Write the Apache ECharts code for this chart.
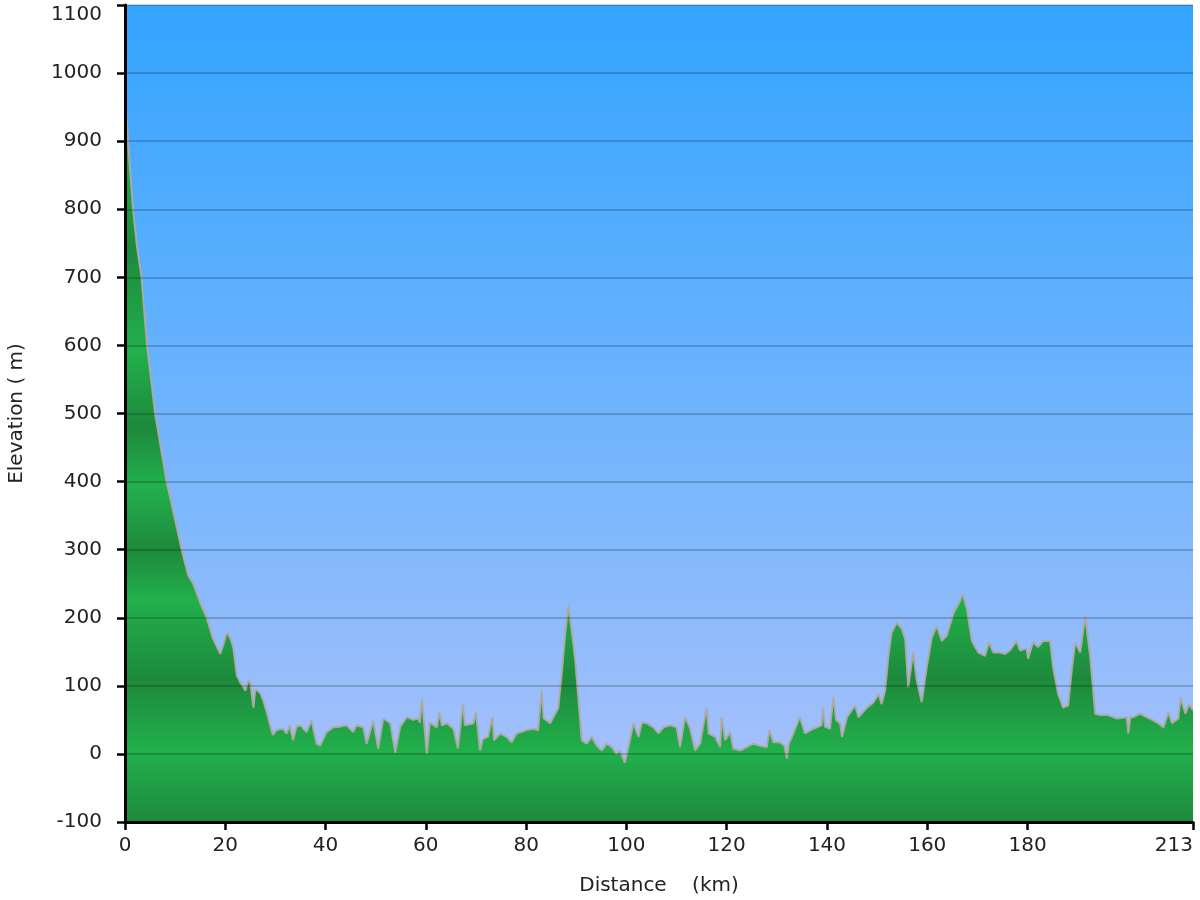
<!DOCTYPE html>
<html>
<head>
<meta charset="utf-8">
<script src="https://cdn.jsdelivr.net/npm/echarts@6/dist/echarts.min.js"></script>
<style>html,body{margin:0;padding:0;background:#fff}#c{width:1200px;height:900px}</style>
</head>
<body>
<div id="c"></div>
<script>
const distKm = [0,0.6,1.6,2.4,3.3,4.4,5.2,6,7.6,8.3,9.8,11.3,12.6,13.6,15,16.3,17.5,19,19.6,20.3,21,21.6,22.3,23,24,24.6,25,25.6,26,27,27.6,28.3,29.2,29.5,30.2,31.5,32.2,32.9,33.5,34.2,35,36.2,37.2,38.2,38.9,40.2,41.5,42.8,44.2,45.5,46.2,47.5,48.2,49.5,50.5,51.5,52.9,53.9,54.9,56.2,57.5,58.5,58.8,59.2,60.2,60.8,62.2,62.7,63.2,64.2,65.5,66.4,67.4,67.8,69.5,70,70.8,71.4,72.4,73.3,73.6,74.8,76.1,77.1,78.1,80.1,81.4,82.4,83.1,83.5,84.8,85.8,86.4,87.1,87.8,88.4,89.1,89.8,90.4,91.1,92.1,93.1,94.1,95.1,96.1,97.1,98,98.7,99.7,100.4,101.4,102.4,103.1,104.1,105.4,106.4,107.4,108.7,110,110.7,111.7,112.7,113.7,114.7,116,116.4,117.7,118.7,119,119.7,120.7,121.3,122.7,124,125.3,126.6,128,128.5,129.3,130.6,131.5,132,132.4,133.3,134.6,135.6,137.3,138.9,139.2,139.6,140.6,141.3,141.8,142.6,143,144,145.6,146.3,148,149.3,150.3,150.9,151.6,152.3,152.9,153.9,154.9,155.6,156.2,157.2,157.9,158.9,159.9,160.9,161.9,162.9,163.9,165.3,166.3,167.1,167.9,168.9,170.2,171.5,172.3,173.2,174.5,175.5,176.5,177.8,178.5,179.8,180.1,181.1,182.1,183.1,184.5,185.1,186.1,187.1,188.1,188.8,189.5,190.5,191.5,192.5,193.5,194.5,196.1,197.8,199.8,200.1,200.5,201.1,202.4,203.8,205.1,206.1,207.1,208.1,208.8,210.1,210.5,211.5,212.2,213];
const elevM = [970,900,800,745,700,600,550,500,430,400,350,300,262,250,222,200,170,147,160,179,170,156,115,105,93,108,104,68,95,89,78,60,35,28,35,37,30,42,20,40,42,32,49,15,12,32,39,40,42,32,42,39,15,49,8,52,45,2,40,54,50,52,46,81,0,46,39,61,42,45,37,8,74,42,45,61,5,22,25,54,20,30,25,17,30,35,37,35,93,52,45,59,67,118,177,218,181,137,83,20,15,25,12,5,15,10,0,5,-13,10,45,25,46,45,39,30,39,42,39,10,54,37,5,15,68,30,25,10,54,20,32,8,5,10,15,12,10,35,17,17,12,-7,15,30,54,30,37,42,68,40,37,83,50,45,25,54,71,54,68,76,88,73,93,147,178,193,184,169,98,149,108,76,127,171,188,166,174,208,221,235,213,166,149,144,164,149,149,147,152,166,152,155,140,164,157,166,166,127,88,68,71,122,164,149,203,142,59,57,57,52,54,30,54,54,59,54,49,45,39,61,45,52,83,59,73,64];
const xTickValues = [0,20,40,60,80,100,120,140,160,180,213];
const yMin = -100, yMax = 1100, yStep = 100;

const data = distKm.map((d, i) => [d, elevM[i]]);
const FONT = 'DejaVu Sans';
const chart = echarts.init(document.getElementById('c'), null, {renderer: 'canvas'});

const skyGrad = new echarts.graphic.LinearGradient(0, 0, 0, 1, [
  {offset: 0, color: '#33a4ff'},
  {offset: 0.5, color: '#6fb4fd'},
  {offset: 0.92, color: '#a3c0fb'},
  {offset: 1, color: '#a8c3fa'}
]);
const B = '#22b04c', D = '#1d893c';
const greenGrad = {
  type: 'linear', global: true, x: 0, y: 5, x2: 0, y2: 823,
  colorStops: [
    {offset: 0, color: D}, {offset: 0.18, color: B}, {offset: 0.296, color: D},
    {offset: 0.425, color: B}, {offset: 0.516, color: D}, {offset: 0.589, color: B},
    {offset: 0.666, color: D}, {offset: 0.727, color: B}, {offset: 0.825, color: D},
    {offset: 0.913, color: B}, {offset: 1, color: D}
  ]
};

chart.setOption({
  animation: false,
  backgroundColor: '#ffffff',
  grid: {left: 125, right: 7, top: 5, bottom: 78, show: true, backgroundColor: skyGrad, borderWidth: 0,
         containLabel: false, outerBoundsMode: 'none'},
  xAxis: {
    type: 'value', min: 0, max: 213, z: 10,
    name: 'Distance    (km)', nameLocation: 'middle', nameGap: 54,
    nameTextStyle: {fontFamily: FONT, fontSize: 20, color: '#222'},
    axisLine: {show: true, onZero: false, lineStyle: {color: '#000', width: 3}},
    axisTick: {show: true, length: 8, customValues: xTickValues, lineStyle: {color: '#000', width: 2.5}},
    axisLabel: {customValues: xTickValues, fontFamily: FONT, fontSize: 20, color: '#222', margin: 14,
                alignMaxLabel: 'right'},
    splitLine: {show: false}
  },
  yAxis: {
    type: 'value', min: yMin, max: yMax, interval: yStep, z: 10,
    name: 'Elevation ( m)', nameLocation: 'middle', nameGap: 98, nameRotate: 90,
    nameTextStyle: {fontFamily: FONT, fontSize: 20, color: '#222'},
    axisLine: {show: true, onZero: false, lineStyle: {color: '#000', width: 3}},
    axisTick: {show: true, length: 8, lineStyle: {color: '#000', width: 2.5}},
    axisLabel: {fontFamily: FONT, fontSize: 20, color: '#222', margin: 23,
                verticalAlignMaxLabel: 'top',
                formatter: v => String(v)},
    splitLine: {show: true, lineStyle: {color: 'rgba(0,0,0,0.25)', width: 1.5}}
  },
  series: [{
    type: 'line', data: data, showSymbol: false, smooth: false, z: 1,
    lineStyle: {color: 'rgba(175,170,165,0.95)', width: 2},
    areaStyle: {origin: 'start', color: greenGrad, opacity: 1}
  }]
});
</script>
</body>
</html>
